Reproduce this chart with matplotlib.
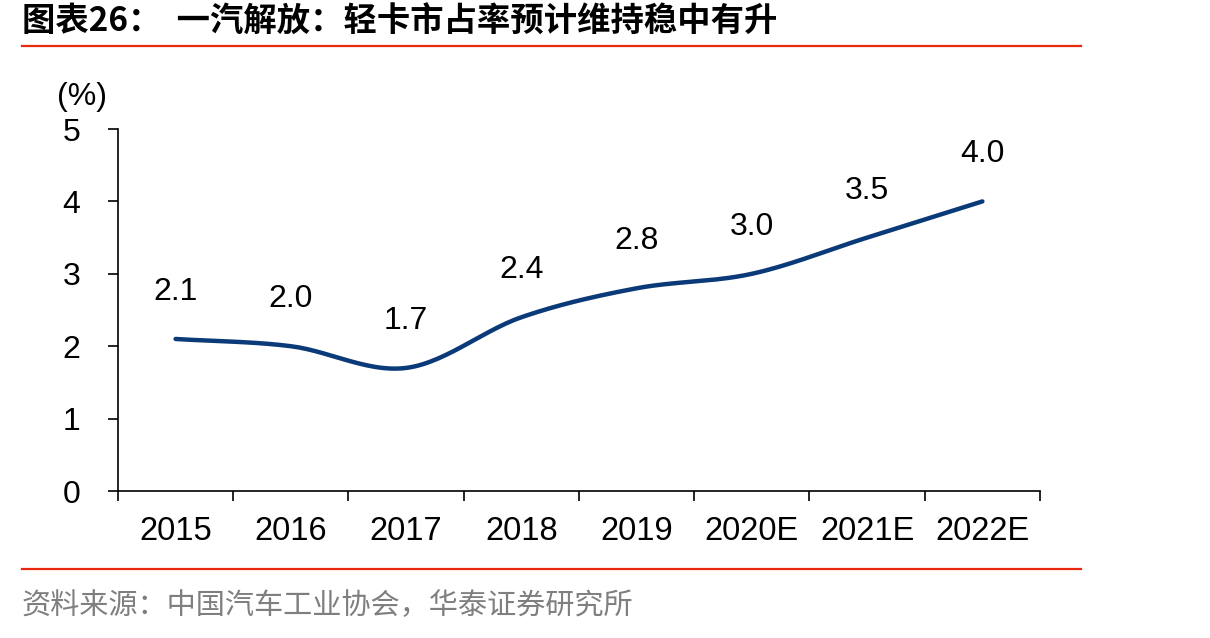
import matplotlib
matplotlib.use("Agg")
import matplotlib.pyplot as plt
import numpy as np

years = ["2015", "2016", "2017", "2018", "2019", "2020E", "2021E", "2022E"]
share = [2.1, 2.0, 1.7, 2.4, 2.8, 3.0, 3.5, 4.0]
labels = ["2.1", "2.0", "1.7", "2.4", "2.8", "3.0", "3.5", "4.0"]

title = "图表26：  一汽解放：轻卡市占率预计维持稳中有升"
source = "资料来源：中国汽车工业协会，华泰证券研究所"

cjk = ["Noto Sans CJK SC", "DejaVu Sans"]
latin = ["Liberation Sans", "DejaVu Sans"]


def smooth(xs, ys, n=30):
    """Catmull-Rom curve through the points, like Excel's smoothed line."""
    xs = np.asarray(xs, float)
    ys = np.asarray(ys, float)
    px = np.concatenate([[2 * xs[0] - xs[1]], xs, [2 * xs[-1] - xs[-2]]])
    py = np.concatenate([[2 * ys[0] - ys[1]], ys, [2 * ys[-1] - ys[-2]]])
    outx, outy = [], []
    for i in range(1, len(px) - 2):
        t = np.linspace(0, 1, n)
        for p, out in ((px, outx), (py, outy)):
            p0, p1, p2, p3 = p[i - 1], p[i], p[i + 1], p[i + 2]
            out.extend(0.5 * (2 * p1 + (-p0 + p2) * t
                              + (2 * p0 - 5 * p1 + 4 * p2 - p3) * t ** 2
                              + (-p0 + 3 * p1 - 3 * p2 + p3) * t ** 3))
    return np.array(outx), np.array(outy)


fig = plt.figure(figsize=(12.1, 6.38), dpi=100)
ax = fig.add_axes([0.0975, 0.2304, 0.762, 0.5674])

x = np.arange(len(years))
sx, sy = smooth(x, share)
ax.plot(sx, sy, color="#0B3A78", lw=3.2, solid_capstyle="round")

for xi, v, s in zip(x, share, labels):
    ax.annotate(s, (xi, v), xytext=(0, 23), textcoords="offset points",
                ha="center", va="bottom", fontsize=23, family=latin)

ax.set_xlim(-0.5, len(years) - 0.5)
ax.set_ylim(0, 5)
ax.set_yticks(range(6))
ax.set_yticklabels([str(i) for i in range(6)], fontsize=23, family=latin)
ax.set_xticks(x)
ax.set_xticklabels(years, fontsize=23.5, family=latin)
ax.tick_params(axis="x", length=0, pad=18)
ax.set_xticks(np.arange(len(years) + 1) - 0.5, minor=True)
ax.tick_params(axis="x", which="minor", length=7, width=1.2, direction="out")
ax.tick_params(axis="y", length=7, width=1.2, direction="out", pad=20)

for side in ["top", "right"]:
    ax.spines[side].set_visible(False)
for side in ["left", "bottom"]:
    ax.spines[side].set_linewidth(1.2)

fig.text(0.047, 0.825, "(%)", fontsize=23, family=latin, va="bottom")

fig.text(0.018, 0.965, title, fontsize=24, fontweight="bold", family=cjk, va="center")
fig.add_artist(plt.Line2D([0.018, 0.893], [0.928, 0.928], color="#E8280F", lw=1.6))
fig.add_artist(plt.Line2D([0.018, 0.893], [0.108, 0.108], color="#E8280F", lw=1.6))
fig.text(0.018, 0.05, source, fontsize=21, color="#7F7F7F", family=cjk, va="center")

fig.savefig("out.png", dpi=100)
